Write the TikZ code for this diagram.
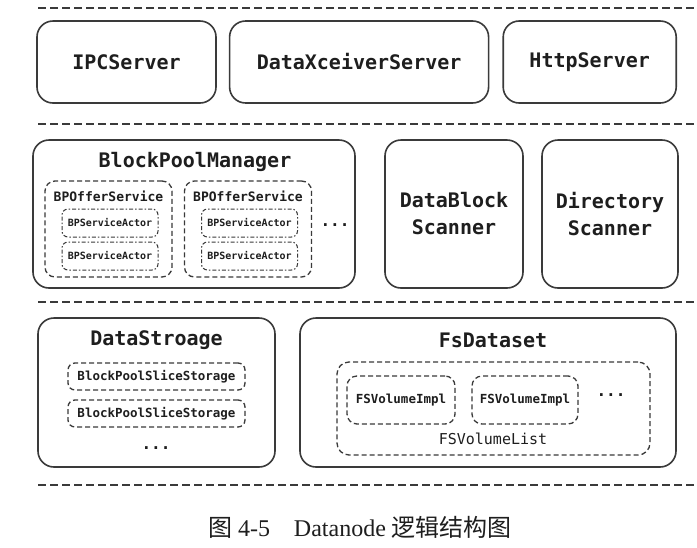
\documentclass[tikz,border=0pt]{standalone}
\usepackage{fontspec}
\setmainfont{Liberation Serif}
\newfontfamily\monofont{DejaVu Sans Mono}
\newfontfamily\cjk{Noto Sans CJK SC}
\usetikzlibrary{positioning}
\definecolor{linegray}{HTML}{3A3A3A}
\definecolor{textgray}{HTML}{1E1E1E}
\tikzset{
  mainbox/.style={
    draw=linegray,
    line width=1.6pt,
    rounded corners=16pt,
    align=center,
    text=textgray,
    inner sep=0pt,
    font=\monofont\bfseries\fontsize{20}{27}\selectfont
  },
  dashbox/.style={
    draw=linegray,
    line width=1.3pt,
    dash pattern=on 5pt off 3pt,
    rounded corners=10pt,
    inner sep=0pt
  },
  dotdashbox/.style={
    draw=linegray,
    line width=1pt,
    dash pattern=on 4pt off 2pt on 1.5pt off 2pt,
    rounded corners=6pt,
    inner sep=0pt,
    text=textgray,
    font=\monofont\bfseries\fontsize{10}{12}\selectfont
  },
  titletext/.style={
    text=textgray,
    inner sep=0pt,
    font=\monofont\bfseries\fontsize{20}{24}\selectfont
  },
  subtitle/.style={
    text=textgray,
    inner sep=0pt,
    font=\monofont\bfseries\fontsize{13}{15}\selectfont
  },
  innertext/.style={
    text=textgray,
    font=\monofont\bfseries\fontsize{12.5}{15}\selectfont
  },
  moredots/.style={
    text=textgray,
    inner sep=0pt,
    font=\monofont\bfseries\fontsize{16}{18}\selectfont
  },
  separator/.style={
    draw=linegray,
    line width=1.6pt,
    dash pattern=on 8pt off 4pt
  }
}
\begin{document}
\begin{tikzpicture}[x=1pt,y=-1pt,node distance=12pt]
  \useasboundingbox[fill=white] (0,0) rectangle (697,547);
  % layer separators
  \foreach \sepy in {8,124,302,485}
    \draw[separator] (38,\sepy) -- (697,\sepy);

  % servers
  \node[mainbox, minimum width=179pt, minimum height=82pt] (ipc) at (126.5,62) {IPCServer};
  \node[mainbox, minimum width=259pt, minimum height=82pt, right=of ipc] (xceiver) {DataXceiverServer};
  \node[mainbox, minimum width=173pt, minimum height=82pt, right=13pt of xceiver] (http) {HttpServer};

  % block pool manager
  \node[mainbox, minimum width=322pt, minimum height=148pt] (bpm) at (194,214) {};
  \node[titletext] (bpmtitle) at (195,162) {BlockPoolManager};
  \foreach \bpx/\bpname in {108.5/offerA,248/offerB}{
    \node[dashbox, minimum width=127pt, minimum height=96pt] (\bpname) at (\bpx,229) {};
    \node[subtitle] (\bpname title) at (\bpx,196) {BPOfferService};
    \node[dotdashbox, minimum width=96pt, minimum height=28pt] (\bpname actorA) at (\bpx+1.5,223) {BPServiceActor};
    \node[dotdashbox, minimum width=96pt, minimum height=28pt] (\bpname actorB) at (\bpx+1.5,256) {BPServiceActor};
  }
  \node[moredots] (bpmdots) at (335,225) {...};

  % scanners
  \node[mainbox, minimum width=138pt, minimum height=148pt] (blockscan) at (454,214) {DataBlock\\Scanner};
  \node[mainbox, minimum width=136pt, minimum height=148pt] (dirscan) at (610,214) {Directory\\Scanner};

  % data storage
  \node[mainbox, minimum width=237pt, minimum height=149pt] (storage) at (156.5,392.5) {};
  \node[titletext] (storagetitle) at (156.5,340) {DataStroage};
  \node[dashbox, innertext, minimum width=177pt, minimum height=27pt, rounded corners=7pt] (sliceA) at (156.5,376.5) {BlockPoolSliceStorage};
  \node[dashbox, innertext, minimum width=177pt, minimum height=27pt, rounded corners=7pt] (sliceB) at (156.5,413.5) {BlockPoolSliceStorage};
  \node[moredots] (storagedots) at (156,448) {...};

  % dataset
  \node[mainbox, minimum width=376pt, minimum height=149pt] (fsd) at (488,392.5) {};
  \node[titletext] (fsdtitle) at (493,340) {FsDataset};
  \node[dashbox, minimum width=313pt, minimum height=93pt, rounded corners=12pt] (vollist) at (493.5,408.5) {};
  \node[dashbox, innertext, minimum width=108pt, minimum height=48pt] (volA) at (401,400) {FSVolumeImpl};
  \node[dashbox, innertext, minimum width=106pt, minimum height=48pt] (volB) at (525,400) {FSVolumeImpl};
  \node[moredots] (voldots) at (611,395) {...};
  \node[text=textgray, inner sep=0pt, font=\monofont\fontsize{15}{18}\selectfont] (vollabel) at (493,439) {FSVolumeList};

  % caption
  \node[text=textgray, inner sep=0pt, font=\fontsize{24}{28}\selectfont] (caption) at (360,527) {{\cjk 图} 4-5\hspace{24pt}Datanode {\cjk 逻辑结构图}};
\end{tikzpicture}
\end{document}
